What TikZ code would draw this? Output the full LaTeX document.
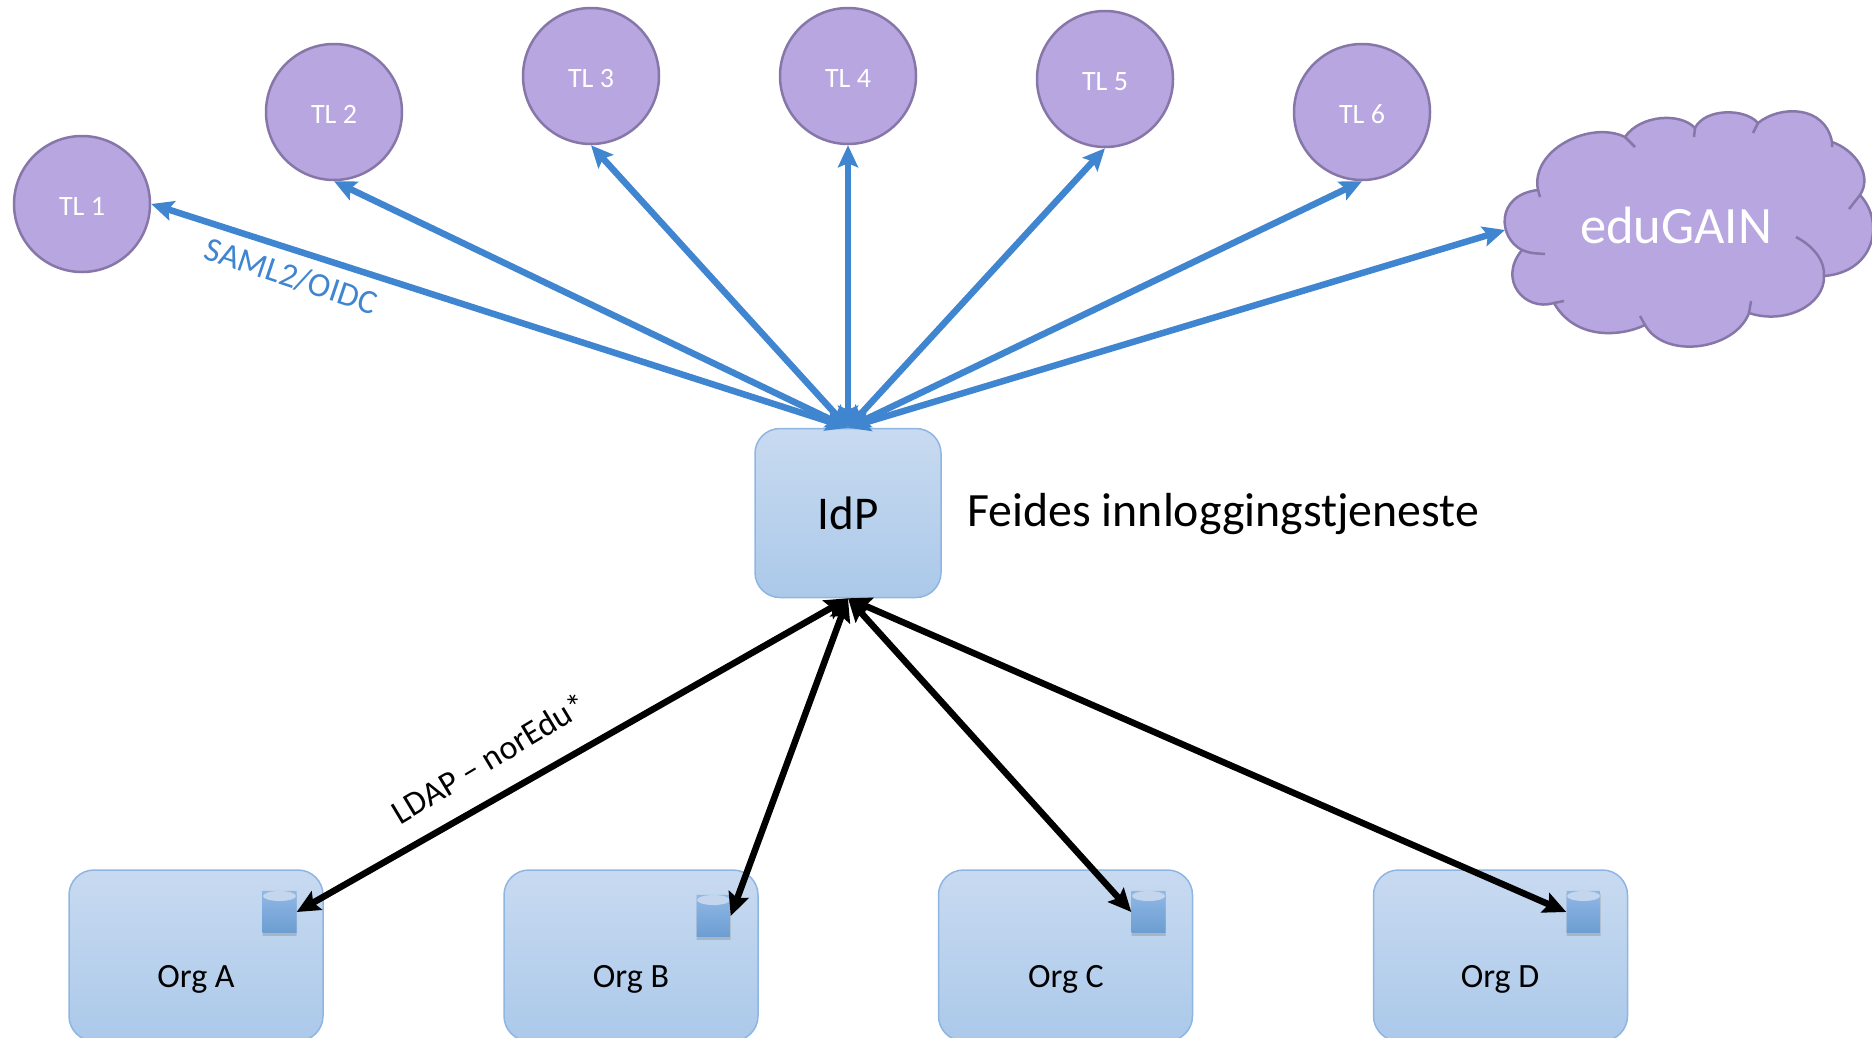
\documentclass[tikz,border=0pt]{standalone}
\usepackage{fontspec}
\setmainfont{Carlito}
\usetikzlibrary{arrows.meta,shapes.geometric,shadows}
\definecolor{tlFill}{HTML}{B7A6E0}
\definecolor{tlLine}{HTML}{8677A8}
\definecolor{boxLine}{HTML}{8FB5E2}
\definecolor{blueLine}{HTML}{3F85CF}
\definecolor{boxTop}{HTML}{C8DAF0}
\definecolor{boxBottom}{HTML}{ABC9EA}
\definecolor{dbTop}{HTML}{90B8E6}
\definecolor{dbBottom}{HTML}{6C9DD2}
\definecolor{dbCap}{HTML}{C3D6ED}
\newcommand{\sized}[1]{\fontsize{#1}{#1}\selectfont}

\begin{document}
\begin{tikzpicture}
[x=1pt,y=-1pt,%
  tlDecorate/.style={shape=circle,minimum size=136pt,inner sep=0pt,draw=tlLine,line width=2.5pt,fill=tlFill,text=white,text height=22pt,text depth=0pt,font=\sized{28}},%
  boxDecorate/.style={shape=rectangle,rounded corners=25pt,draw=boxLine,line width=1.5pt,top color=boxTop,bottom color=boxBottom,inner sep=0pt},%
  dbDecorate/.style={shape=cylinder,shape border rotate=90,aspect=0.36,minimum width=34pt,minimum height=42pt,inner sep=0pt,top color=dbTop,bottom color=dbBottom,drop shadow={shadow xshift=0pt,shadow yshift=-3pt,opacity=0.35}},%
  blueDecorate/.style={{Stealth[length=22pt,width=20pt,inset=4pt]}-{Stealth[length=22pt,width=20pt,inset=4pt]},blueLine,line width=6.5pt},%
  blackDecorate/.style={{Stealth[length=23pt,width=21pt,inset=4pt]}-{Stealth[length=23pt,width=21pt,inset=4pt]},black,line width=6.5pt},%
  orgText/.style={font=\sized{34}}]
\useasboundingbox (0,0) rectangle (1872,1037);
\clip (0,0) rectangle (1872,1037);
%% purple circles
\foreach \nodename/\x/\y/\txt in {
  tlA/82/204/TL 1, tlB/334/112/TL 2, tlC/591/76/TL 3,
  tlD/848/76/TL 4, tlE/1105/79/TL 5, tlF/1362/112/TL 6}
{
  \node (\nodename) at (\x,\y) [tlDecorate] {\txt};
}
%% cloud
\path[fill=tlFill,draw=tlLine,line width=2.5pt]
  (1522,250) .. controls (1498,238) and (1495,195) .. (1538,190)
  .. controls (1530,150) and (1590,120) .. (1625,137)
  .. controls (1640,115) and (1680,112) .. (1695,128)
  .. controls (1705,108) and (1745,108) .. (1758,123)
  .. controls (1780,105) and (1825,105) .. (1832,142)
  .. controls (1855,150) and (1873,175) .. (1860,195)
  .. controls (1885,222) and (1875,272) .. (1824,276)
  .. controls (1825,305) and (1785,325) .. (1749,313)
  .. controls (1735,350) and (1665,360) .. (1645,325)
  .. controls (1620,337) and (1575,340) .. (1554,303)
  .. controls (1525,312) and (1497,280) .. (1522,250) -- cycle;
\draw[tlLine,line width=2.5pt]
  (1522,250) .. controls (1530,253) .. (1545,254)
  (1538,190) -- (1540,197)
  (1625,137) -- (1635,147)
  (1695,128) -- (1694,137)
  (1758,123) -- (1753,133)
  (1832,142) -- (1832,147)
  (1860,195) -- (1849,209)
  (1796,237) .. controls (1815,247) and (1825,262) .. (1824,276)
  (1749,313) -- (1751,301)
  (1645,325) -- (1640,316)
  (1554,303) -- (1564,301);
\node (eduGAIN) at (1676,225) [text=white,font=\sized{52.5}] {eduGAIN};
\coordinate (eduGAINin) at (1505,230);
%% idp and its caption
\node (idP) at (848,513) [boxDecorate,minimum width=186pt,minimum height=169pt,font=\sized{47}] {IdP};
\node (feide) at (964,514) [anchor=west,font=\sized{47.8}] {Feides innloggingstjeneste};
%% organisations
\foreach \nodename/\x/\dbx/\dby in {
  A/196/279.5/912, B/631/713.5/916, C/1065.5/1148.5/912, D/1500.5/1583.5/912}
{
  \node (org\nodename) at (\x,955.5) [boxDecorate,minimum width=254pt,minimum height=171pt] {};
  \node (db\nodename) at (\dbx,\dby) [dbDecorate] {};
  \fill[dbCap] (\dbx,\dby-16) ellipse (16.5pt and 5pt);
}
\foreach \nodename/\x/\txt in {
  A/196/Org A, B/631/Org B, C/1066/Org C, D/1500/Org D}
{
  \node (text\nodename) at (\x,979) [orgText] {\txt};
}
%% edges or lines
\path
\foreach \endnode in {tlA.east, tlB.south, tlC.south, tlD.south, tlE.south, tlF.south, eduGAINin}
{
  (idP.north) edge[blueDecorate] (\endnode)
};
\path
\foreach \endnode/\side in {A/east, B/east, C/west, D/west}
{
  (idP.south) edge[blackDecorate] (db\endnode.\side)
};
%% labels
\node (saml) at (291,276) [rotate=-18.5,text=blueLine,font=\sized{34}] {SAML2/OIDC};
\node (ldap) at (489,758) [rotate=31,font=\sized{34}] {LDAP – norEdu*};
\end{tikzpicture}
\end{document}
